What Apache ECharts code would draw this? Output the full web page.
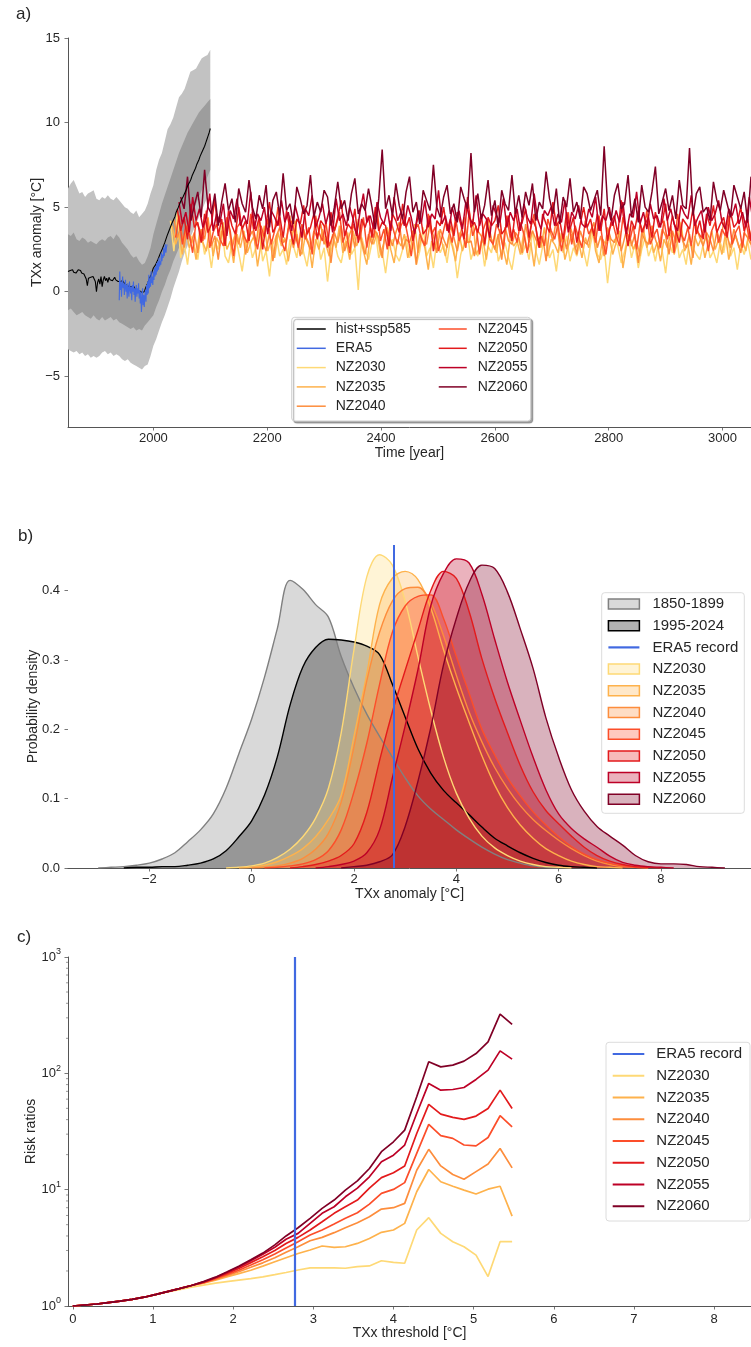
<!DOCTYPE html>
<html><head><meta charset="utf-8">
<script src="https://cdn.jsdelivr.net/npm/echarts@6/dist/echarts.min.js"></script>
<style>html,body{margin:0;padding:0;background:#fff}#c{width:751px;height:1347px}</style>
</head><body><div id="c"></div>
<script>
// ---------------- DATA ----------------
// Panel a: tick labels
const timeTicks = [2000, 2200, 2400, 2600, 2800, 3000];
const anomalyTicks = [-5, 0, 5, 10, 15];
// hist+ssp585 ensemble mean, every 2 years from 1850
const histStart = 1850, histStep = 2;
const histValues = [
  1.2,1.1,1.25,1.2,1.3,1.15,1.25,1.1,1.2,1.3,
  1.2,1.25,1.1,1.2,1.05,0.9,0.75,0.35,0.8,0.7,
  0.85,0.75,0.9,0.8,0.6,0.0,0.55,0.75,0.45,0.9,
  0.3,0.7,0.9,0.65,0.8,0.55,0.85,0.7,0.8,0.65,
  0.75,0.85,0.7,0.75,0.6,0.7,0.6,0.5,0.65,0.55,
  0.45,0.5,0.35,0.45,0.3,0.4,0.3,0.2,0.3,0.15,
  0.2,0.1,0.2,0.05,0.1,-0.05,0.05,0.0,0.2,0.35,
  0.5,0.7,0.85,1.0,1.2,1.4,1.5,1.6,1.75,1.9,
  2.0,2.25,2.2,2.55,2.5,2.9,3.0,3.3,3.35,3.65,
  3.7,4.0,4.05,4.3,4.45,4.7,4.75,5.0,5.05,5.35,
  5.4,5.6,5.75,5.9,6.05,6.25,6.35,6.5,6.65,6.85,
  7.0,7.15,7.3,7.5,7.65,7.8,8.0,8.1,8.3,8.45,
  8.6,8.8,9.0,9.2,9.4,9.65
];
// ERA5, yearly from 1940
const era5Start = 1940;
const era5Values = [
  -0.5,1.2,0.1,0.6,-0.3,0.4,0.9,0.2,0.5,-0.2,
  0.3,0.7,0.0,0.4,-0.4,0.5,0.1,-0.3,0.6,0.2,
  -0.1,0.3,-0.5,0.4,0.0,0.6,-0.2,0.2,-0.6,0.1,
  0.4,-0.3,0.2,-0.1,0.5,-0.4,0.1,-0.7,0.0,-1.2,
  -0.5,0.2,-0.8,-0.2,-0.9,-0.3,0.1,-0.6,0.4,-0.2,
  0.6,-0.1,1.0,0.2,0.8,0.3,1.2,0.5,0.9,0.4,
  1.2,0.7,1.4,0.9,1.5,1.0,1.7,1.2,1.8,1.3,
  2.0,1.5,1.8,1.6,2.3,1.8,2.2,2.0,2.6,2.1,
  2.4,2.8,2.3,2.6,2.8
];
// ensemble spread bands, every 5 years from 1850
const bandStart = 1850, bandStep = 5;
const outerHigh = [
  6.1,6.4,6.6,6.2,5.8,5.9,5.6,5.8,5.9,6.0,
  5.5,5.4,5.6,5.5,5.7,5.5,5.4,5.6,5.4,5.2,
  5.0,4.9,4.7,4.6,4.8,4.4,4.6,4.8,5.2,5.8,
  6.3,7.2,7.8,8.2,8.9,9.6,9.9,10.3,10.9,11.5,
  11.7,12.0,12.5,13.0,13.1,13.2,13.5,13.8,13.9,14.0,14.3
];
const innerHigh = [
  3.4,3.3,3.5,3.1,3.0,3.2,3.1,2.9,3.0,2.9,
  2.8,3.0,3.1,3.0,3.2,3.3,3.1,3.4,3.2,2.9,
  2.7,2.5,2.2,2.0,2.1,1.8,1.6,1.7,2.1,2.6,
  3.4,4.0,4.6,5.2,5.7,6.2,6.7,7.2,7.7,8.2,
  8.6,9.0,9.4,9.7,10.0,10.3,10.6,10.8,11.0,11.2,11.4
];
const innerLow = [
  -1.1,-1.0,-1.2,-1.4,-1.3,-1.2,-1.4,-1.5,-1.6,-1.4,
  -1.6,-1.7,-1.5,-1.7,-1.6,-1.5,-1.7,-1.6,-1.8,-1.9,
  -2.0,-2.1,-2.2,-2.1,-2.3,-2.2,-2.3,-2.0,-1.8,-1.6,
  -1.4,-0.9,-0.5,0.0,0.4,0.9,1.3,1.8,2.2,2.6,
  3.0,3.5,3.9,4.3,4.7,5.2,5.6,6.0,6.4,6.8,7.2
];
const outerLow = [
  -3.4,-3.5,-3.6,-3.5,-3.7,-3.6,-3.8,-3.7,-3.9,-3.8,
  -3.9,-3.8,-3.6,-3.5,-3.7,-3.6,-3.8,-3.7,-3.8,-4.0,
  -4.1,-4.0,-4.2,-4.3,-4.4,-4.5,-4.6,-4.4,-4.3,-3.8,
  -3.2,-2.8,-2.3,-1.8,-1.4,-0.9,-0.4,0.2,0.7,1.2,
  1.8,2.3,2.7,3.2,3.6,4.0,4.4,4.8,5.2,5.6,6.0
];
// Net-zero stabilisation runs, every 6 years from their start year
const nzNames = ['NZ2030','NZ2035','NZ2040','NZ2045','NZ2050','NZ2055','NZ2060'];
const nzStartYears = [2030, 2033, 2036, 2039, 2042, 2045, 2048];
const nzStep = 6;
const nz2030 = [
  4.2,2.4,4.7,2.0,2.9,1.6,3.3,2.7,1.9,3.5,2.2,2.8,1.4,3.0,2.5,3.9,2.1,1.7,2.9,3.4,
  2.3,1.2,2.7,3.2,2.0,2.6,3.7,1.8,2.4,0.9,2.8,3.3,2.1,2.5,1.6,3.1,2.7,2.0,3.6,2.3,
  1.5,2.9,2.2,3.4,1.9,2.6,0.6,2.4,3.0,2.1,1.7,2.8,3.5,2.2,2.6,0.1,3.2,2.5,1.9,2.9,
  3.6,2.0,2.4,1.1,2.7,3.1,2.2,1.8,2.5,3.3,2.0,2.9,1.6,2.4,3.8,2.1,2.6,1.4,3.0,2.3,
  2.8,1.7,3.2,2.5,0.8,2.2,2.9,3.4,1.9,2.6,2.1,3.0,1.5,2.7,2.3,3.5,1.8,2.4,2.9,2.0,
  1.3,2.6,3.1,2.2,2.8,1.9,3.6,2.4,1.6,2.7,3.2,2.0,2.5,1.2,2.9,2.3,3.3,1.8,2.6,2.1,
  3.0,2.4,1.5,2.8,3.7,2.2,1.9,2.6,0.5,2.3,3.1,2.7,1.7,2.4,3.4,2.0,2.8,1.4,2.5,3.2,
  2.1,2.7,1.8,3.0,2.4,1.1,2.9,2.3,3.6,2.0,2.5,1.6,3.1,2.6,2.2,1.9,2.8,3.3,2.0,2.4,
  1.7,2.9,2.3,3.5,2.1,2.6,1.3,2.8,2.2,3.0,1.9
];
const nz2035 = [
  3.9,2.8,3.4,2.2,3.7,2.6,3.1,1.9,3.5,2.9,2.4,3.8,2.1,3.2,2.7,4.1,2.5,3.0,1.7,3.4,
  2.6,3.6,2.3,2.9,3.3,1.5,2.8,3.9,2.4,3.1,2.0,3.5,2.7,3.2,1.8,3.0,4.2,2.6,2.2,3.3,
  2.9,1.4,3.1,2.5,3.7,2.8,2.1,3.4,2.6,3.9,2.3,3.0,1.9,3.6,2.7,3.2,2.4,1.6,3.3,2.8,
  3.5,2.2,2.9,3.8,2.5,1.7,3.1,2.7,3.4,2.0,2.8,4.0,2.3,3.2,2.6,1.3,3.0,2.5,3.6,2.9,
  2.1,3.3,2.7,1.8,3.5,2.4,3.0,2.9,4.3,2.2,2.6,3.1,1.9,3.4,2.8,2.3,3.7,2.5,1.6,3.2,
  2.7,3.0,2.2,3.6,2.4,2.9,1.5,3.3,2.6,3.8,2.1,3.1,2.8,2.3,3.5,1.9,2.7,3.4,2.5,3.0,
  2.0,3.2,2.6,3.9,2.4,1.7,3.1,2.8,3.3,2.2,2.9,3.6,1.4,2.7,3.2,2.5,3.0,2.1,3.7,2.6,
  3.4,2.3,2.9,1.8,3.1,2.6,3.5,2.2,3.0,4.1,2.4,2.8,1.6,3.3,2.7,3.2,2.0,2.9,3.6,2.5,
  3.1,2.2,3.4,1.9,2.8,3.3,2.6,3.0,2.4,3.7,2.1
];
const nz2040 = [
  4.3,3.2,3.8,2.6,4.0,2.9,3.5,2.3,3.7,3.1,4.4,2.7,3.3,1.9,3.6,3.0,4.1,2.5,3.4,2.8,
  3.9,2.2,3.2,3.6,2.7,4.2,3.0,2.4,3.5,1.8,3.3,3.8,2.9,3.1,4.5,2.6,3.4,2.1,3.7,3.0,
  2.5,3.6,3.2,4.0,2.8,3.3,1.7,3.5,2.9,3.9,2.4,3.1,3.7,2.6,4.3,3.0,2.2,3.4,2.8,3.6,
  3.2,2.0,3.8,3.3,2.7,3.5,4.1,2.5,3.1,2.9,3.6,1.6,3.4,3.0,2.8,4.0,3.3,2.3,3.7,3.1,
  2.6,3.9,3.2,2.4,3.5,4.4,2.9,3.0,2.1,3.6,3.3,2.7,4.2,3.1,2.5,3.4,1.9,3.8,3.0,2.8,
  3.5,3.2,2.3,4.0,2.9,3.6,3.1,2.6,3.3,1.8,3.7,3.0,4.3,2.7,3.4,2.5,3.9,3.2,2.2,3.6,
  3.0,2.8,3.5,4.1,2.6,3.3,2.1,3.8,3.1,2.9,3.6,2.4,3.2,4.0,2.7,3.4,1.7,3.5,3.0,2.8,
  3.9,3.1,2.5,3.7,3.3,2.2,3.6,2.9,4.2,3.0,2.6,3.4,2.0,3.8,3.2,2.7,3.5,3.1,2.4,3.6,
  2.9,4.1,3.3,2.6,3.7,3.0,2.3,3.5,3.2,2.8,3.9
];
const nz2045 = [
  3.2,4.5,2.8,3.9,3.4,2.3,4.2,3.7,3.0,4.8,2.6,3.5,4.0,3.1,2.7,4.4,3.6,2.1,3.8,4.1,
  3.3,2.9,4.6,3.5,2.5,3.9,3.2,4.3,2.8,3.6,5.0,3.0,2.4,3.7,4.2,3.4,2.6,4.0,3.1,3.8,
  2.2,4.5,3.5,3.0,4.1,2.7,3.3,3.9,4.7,2.9,3.6,2.3,4.0,3.4,3.1,4.4,2.6,3.8,3.2,4.9,
  3.0,3.7,2.5,4.2,3.5,2.8,3.9,4.3,3.3,2.1,3.6,4.0,3.1,2.7,4.6,3.4,3.8,2.4,3.2,4.1,
  3.7,2.9,4.4,3.0,3.5,2.6,4.8,3.3,3.9,2.2,3.6,4.2,3.1,2.8,4.0,3.5,2.5,4.5,3.2,3.7,
  2.9,4.1,3.4,2.3,3.8,4.6,3.0,3.3,2.7,4.3,3.6,3.1,4.0,2.4,3.5,4.7,2.8,3.9,3.2,2.6,
  4.2,3.4,3.8,2.9,4.5,3.1,2.2,3.7,4.1,3.3,2.7,4.4,3.6,3.0,3.9,2.5,4.0,3.5,4.8,2.8,
  3.3,3.7,2.6,4.2,3.1,3.9,2.3,4.6,3.4,3.0,3.8,2.7,4.3,3.5,3.2,4.0,2.4,3.6,4.1,2.9,
  3.7,3.3,4.5,2.8,3.5,3.9,2.6,4.2,3.1,3.8,3.4
];
const nz2050 = [
  4.9,3.6,4.4,3.1,5.2,3.8,4.1,2.9,4.6,3.5,4.0,5.5,3.3,4.3,2.7,4.8,3.9,3.4,5.0,3.7,
  4.2,3.0,4.7,3.6,4.4,2.5,4.0,5.3,3.5,3.9,4.5,3.2,4.8,3.7,2.8,4.3,4.0,5.1,3.4,3.8,
  4.6,3.1,4.2,3.9,2.6,4.7,3.6,4.4,5.4,3.3,4.0,3.7,4.9,2.9,4.3,3.8,4.5,3.2,5.0,3.6,
  4.1,3.9,2.7,4.6,4.2,3.5,5.2,3.8,4.4,3.0,4.0,4.8,3.4,3.7,4.5,2.4,4.2,3.9,5.0,3.6,
  4.3,3.3,4.7,4.0,3.1,5.6,3.8,4.1,3.5,4.6,2.8,4.4,3.9,4.2,5.1,3.4,3.7,4.5,3.0,4.8,
  3.6,4.1,4.9,3.2,4.3,3.8,2.6,4.6,4.0,3.5,5.3,3.9,4.2,3.1,4.7,3.7,4.4,2.9,4.0,5.0,
  3.8,4.3,3.3,4.6,3.6,4.9,3.0,4.1,4.5,3.4,5.4,3.9,2.7,4.2,3.7,4.8,3.5,4.0,4.4,3.2,
  4.7,3.8,4.1,5.2,3.3,4.5,3.6,2.9,4.3,4.0,3.7,4.9,3.4,4.2,3.1,4.6,3.9,5.1,3.5,4.0,
  4.4,3.2,4.7,3.8,4.1,5.0,3.6,4.3,3.0,4.5,3.9
];
const nz2055 = [
  5.3,4.0,4.7,3.5,5.6,4.2,4.9,3.8,4.4,5.8,3.6,4.6,4.1,5.2,3.3,4.8,4.3,5.5,3.9,4.5,
  4.0,5.9,3.7,4.6,4.2,5.0,3.4,4.8,4.4,3.9,5.4,4.1,4.7,3.6,5.1,4.3,3.2,4.9,4.5,5.7,
  3.8,4.4,5.2,4.0,4.8,3.5,5.5,4.2,4.6,3.9,5.0,4.3,3.3,4.7,5.8,4.1,4.5,3.7,5.3,4.4,
  4.0,4.9,3.6,5.6,4.2,4.7,3.9,5.1,4.4,3.4,4.8,4.1,5.4,3.8,4.6,4.3,6.0,4.0,4.5,3.5,
  5.0,4.2,4.8,3.7,5.3,4.4,4.0,5.7,3.9,4.6,4.3,3.2,5.1,4.5,4.1,5.5,3.8,4.7,4.2,4.9,
  3.6,5.2,4.4,4.0,5.8,4.3,3.7,4.8,4.5,5.0,3.9,4.6,4.1,5.4,3.5,4.7,4.3,5.1,4.0,3.8,
  4.9,4.4,5.6,3.6,4.5,4.2,5.0,3.9,4.8,4.1,5.3,3.4,4.6,4.4,5.9,4.0,4.7,3.7,5.2,4.3,
  4.5,3.8,5.5,4.2,4.9,4.0,3.6,5.1,4.6,4.3,5.7,3.9,4.4,4.8,3.5,5.0,4.2,4.6,5.4,4.1,
  3.7,4.9,4.5,5.2,4.0,4.7,3.8,5.6,4.3,4.4,5.0
];
const nz2060 = [
  5.6,4.9,6.8,4.2,5.1,5.9,4.4,7.2,5.0,4.6,5.8,3.9,5.3,6.4,4.8,5.5,4.1,6.1,5.2,4.7,
  6.6,5.0,4.3,5.7,4.9,6.3,3.8,5.4,5.9,4.5,7.0,4.8,5.2,4.0,6.2,5.5,4.6,5.1,6.9,4.4,
  5.3,4.7,6.0,5.6,3.9,5.0,6.5,4.9,5.4,4.2,5.8,6.7,4.6,5.2,4.8,6.1,5.0,3.7,5.5,8.4,
  4.9,5.7,4.5,6.4,5.1,4.3,5.9,6.8,4.7,5.3,4.0,6.0,5.4,4.8,7.5,5.0,4.4,5.6,6.3,4.6,
  5.2,4.1,6.2,5.5,4.9,8.2,4.7,5.8,4.3,5.1,6.6,4.5,5.4,3.8,6.0,5.2,4.8,6.9,4.6,5.7,
  4.4,5.9,5.1,6.4,4.2,5.3,4.9,7.1,5.5,4.6,6.1,4.0,5.6,5.0,6.7,4.7,5.3,4.3,6.2,5.8,
  4.8,5.4,6.0,4.5,8.6,5.1,4.2,5.7,6.4,4.9,5.2,6.9,4.4,5.5,4.1,6.3,5.0,4.7,5.9,7.4,
  4.6,5.3,6.1,4.8,5.7,4.3,6.6,5.1,4.9,8.5,4.5,5.8,6.2,4.7,5.0,4.2,6.5,5.4,4.8,6.0,
  5.2,4.4,6.3,5.6,4.9,5.9,4.1,6.8,5.3,4.7,5.5
];
const nzValues = [nz2030, nz2035, nz2040, nz2045, nz2050, nz2055, nz2060];

// Panel b: KDE of TXx anomaly, grid from -3.0 in steps of 0.25
const kdeStart = -3.0, kdeStep = 0.25;
const kdeTicks = [-2, 0, 2, 4, 6, 8];
const densityTicks = [0, 0.1, 0.2, 0.3, 0.4];
const era5Record = 2.77;
const kde1850 = [0,0.001,0.002,0.004,0.007,0.013,0.022,0.038,0.055,0.078,0.115,0.165,0.215,0.275,0.345,0.415,0.402,0.38,0.362,0.305,0.26,0.222,0.19,0.16,0.13,0.104,0.085,0.07,0.055,0.042,0.03,0.02,0.012,0.007,0.003,0.001,0,0,0,0,0,0,0,0,0,0,0,0,0,0];
const kde1995 = [0,0,0,0.001,0.001,0.002,0.002,0.004,0.007,0.013,0.025,0.045,0.068,0.105,0.16,0.235,0.29,0.318,0.33,0.329,0.326,0.32,0.308,0.265,0.218,0.172,0.137,0.112,0.094,0.077,0.059,0.043,0.032,0.022,0.014,0.008,0.004,0.002,0.001,0,0,0,0,0,0,0,0,0,0,0];
const kde2030 = [0,0,0,0,0,0,0,0,0,0,0,0.001,0.003,0.007,0.015,0.027,0.045,0.072,0.115,0.195,0.315,0.42,0.452,0.437,0.385,0.305,0.228,0.16,0.108,0.072,0.046,0.029,0.018,0.01,0.005,0.002,0.001,0,0,0,0,0,0,0,0,0,0,0,0,0];
const kde2035 = [0,0,0,0,0,0,0,0,0,0,0,0,0.001,0.004,0.009,0.017,0.028,0.045,0.07,0.105,0.19,0.28,0.38,0.418,0.428,0.416,0.375,0.315,0.26,0.21,0.162,0.12,0.087,0.062,0.043,0.028,0.018,0.01,0.005,0.002,0.001,0,0,0,0,0,0,0,0,0];
const kde2040 = [0,0,0,0,0,0,0,0,0,0,0,0,0,0.001,0.003,0.007,0.014,0.027,0.05,0.095,0.175,0.27,0.34,0.385,0.403,0.405,0.383,0.335,0.278,0.225,0.182,0.145,0.115,0.09,0.07,0.054,0.04,0.028,0.018,0.01,0.005,0.002,0.001,0,0,0,0,0,0,0];
const kde2045 = [0,0,0,0,0,0,0,0,0,0,0,0,0,0,0.001,0.003,0.006,0.012,0.025,0.055,0.11,0.18,0.265,0.34,0.378,0.392,0.394,0.36,0.305,0.252,0.2,0.163,0.13,0.104,0.081,0.062,0.045,0.031,0.02,0.012,0.007,0.003,0.001,0,0,0,0,0,0,0];
const kde2050 = [0,0,0,0,0,0,0,0,0,0,0,0,0,0,0,0,0.002,0.005,0.01,0.018,0.035,0.08,0.155,0.225,0.285,0.343,0.4,0.428,0.418,0.37,0.302,0.245,0.195,0.148,0.11,0.083,0.064,0.046,0.03,0.018,0.01,0.005,0.002,0.001,0,0,0,0,0,0];
const kde2055 = [0,0,0,0,0,0,0,0,0,0,0,0,0,0,0,0,0,0,0.002,0.005,0.01,0.022,0.055,0.13,0.205,0.286,0.378,0.425,0.446,0.44,0.395,0.33,0.268,0.213,0.16,0.113,0.078,0.057,0.042,0.03,0.017,0.008,0.004,0.002,0.001,0,0,0,0,0];
const kde2060 = [0,0,0,0,0,0,0,0,0,0,0,0,0,0,0,0,0,0,0,0,0.002,0.004,0.009,0.019,0.06,0.125,0.202,0.293,0.36,0.412,0.437,0.432,0.398,0.345,0.288,0.217,0.16,0.113,0.082,0.06,0.046,0.033,0.018,0.009,0.006,0.006,0.005,0.002,0.001,0];
const kdeNames = ['1850-1899','1995-2024'].concat(nzNames);
const kdeValues = [kde1850, kde1995, kde2030, kde2035, kde2040, kde2045, kde2050, kde2055, kde2060];

// Panel c: risk ratios vs TXx threshold
const thresholds = [0,0.15,0.30,0.44,0.59,0.74,0.89,1.04,1.18,1.33,1.48,1.63,1.78,1.92,2.07,2.22,2.37,2.52,2.66,2.81,2.96,3.11,3.26,3.40,3.55,3.70,3.85,4.00,4.14,4.29,4.44,4.59,4.74,4.88,5.03,5.18,5.33,5.48];
const thresholdTicks = [0,1,2,3,4,5,6,7,8];
const riskTicksMinor = [2,3,4,5,6,7,8,9,20,30,40,50,60,70,80,90,200,300,400,500,600,700,800,900];
const rr2030 = [1.0,1.02,1.04,1.07,1.1,1.14,1.19,1.25,1.32,1.38,1.45,1.51,1.57,1.62,1.67,1.72,1.78,1.86,1.94,2.04,2.13,2.13,2.13,2.11,2.18,2.21,2.45,2.37,2.33,4.5,5.74,4.21,3.57,3.23,2.74,1.79,3.57,3.57];
const rr2035 = [1.0,1.02,1.04,1.07,1.1,1.14,1.19,1.26,1.33,1.41,1.5,1.57,1.67,1.78,1.9,2.03,2.2,2.4,2.6,2.83,3.03,3.28,3.19,3.23,3.45,3.81,4.3,4.5,5.13,9.6,14.9,11.7,10.7,9.92,9.17,10.1,10.7,5.93];
const rr2040 = [1.0,1.02,1.04,1.07,1.1,1.14,1.19,1.26,1.33,1.41,1.5,1.58,1.69,1.82,1.97,2.15,2.35,2.6,2.9,3.23,3.64,3.89,4.27,4.71,5.2,5.85,6.81,7.0,7.62,14.7,22.2,16.0,13.5,12.3,14.3,16.6,22.6,15.4];
const rr2045 = [1.0,1.02,1.04,1.07,1.1,1.14,1.19,1.26,1.33,1.41,1.5,1.59,1.72,1.86,2.03,2.25,2.5,2.8,3.15,3.57,4.07,4.5,5.06,5.67,6.34,7.52,9.29,10.05,11.5,20.5,36.4,29.1,27.6,24.2,23.8,28.1,43.2,34.7];
const rr2050 = [1.0,1.02,1.04,1.07,1.1,1.14,1.19,1.26,1.33,1.41,1.5,1.6,1.74,1.9,2.1,2.36,2.65,3.0,3.45,3.89,4.5,5.3,6.26,7.13,8.14,10.3,12.7,14.0,16.0,30.4,54.1,44.6,41.8,40.2,42.9,49.9,71.7,49.9];
const rr2055 = [1.0,1.02,1.04,1.07,1.1,1.14,1.19,1.26,1.33,1.41,1.5,1.61,1.76,1.94,2.16,2.45,2.78,3.2,3.75,4.21,5.13,6.26,7.13,8.69,10.3,12.9,17.4,19.8,24.2,45.2,81.9,71.7,72.6,75.6,88.6,106.5,156,132.5];
const rr2060 = [1.0,1.02,1.04,1.07,1.1,1.14,1.19,1.26,1.33,1.41,1.5,1.62,1.77,1.96,2.2,2.5,2.85,3.35,4.0,4.71,5.67,6.9,8.14,9.92,11.9,15.2,21.2,25.8,32.5,62.9,125.6,113.7,117.6,127.3,148,186.5,322.6,263];
const rrValues = [rr2030, rr2035, rr2040, rr2045, rr2050, rr2055, rr2060];

// ---------------- STYLE ----------------
const FONT = '"Liberation Sans", Arial, sans-serif';
const TXT = '#262626', AX = '#555555';
const nzColors = ['#fed976','#feb24c','#fd8d3c','#fc4e2a','#e31a1c','#bd0026','#800026'];
const kdeColors = ['#808080','#000000'].concat(nzColors);
const ERA_BLUE = '#4169e1';
const minus = v => (v < 0 ? '\u2212' + Math.abs(v) : String(v));
function hexA(hex, a) {
  const n = parseInt(hex.slice(1), 16);
  return 'rgba(' + ((n >> 16) & 255) + ',' + ((n >> 8) & 255) + ',' + (n & 255) + ',' + a + ')';
}
const strip = n => n.replace(/^[bc]:/, '');

function valAxis(grid, min, max, ticks, fmt, name, nameGap, margin, showLine) {
  return {
    type: 'value', gridIndex: grid, min: min, max: max,
    axisLine: { show: showLine !== false, onZero: false, lineStyle: { color: AX, width: 1 } },
    axisTick: { show: true, customValues: ticks, length: 3.5, lineStyle: { color: AX, width: 0.8 } },
    axisLabel: { customValues: ticks, formatter: fmt, margin: margin, fontSize: 13, color: TXT, fontFamily: FONT },
    splitLine: { show: false },
    name: name, nameLocation: 'middle', nameGap: nameGap, nameMoveOverlap: false,
    nameTextStyle: { fontSize: 14, color: TXT, fontFamily: FONT }
  };
}

const series = [];
// ensemble spread bands drawn as polygons through the axis scales
const bandYears = outerHigh.map((_, i) => bandStart + i * bandStep);
function bandSeries(lo, hi, color) {
  return { type: 'custom', xAxisIndex: 0, yAxisIndex: 0, silent: true,
    data: bandYears.map((y, i) => [y, lo[i], hi[i]]),
    encode: { x: 0, y: [1, 2] },
    renderItem: function (params, api) {
      if (params.dataIndex !== 0) return null;
      const pts = [];
      for (let i = 0; i < bandYears.length; i++) pts.push(api.coord([bandYears[i], hi[i]]));
      for (let i = bandYears.length - 1; i >= 0; i--) pts.push(api.coord([bandYears[i], lo[i]]));
      return { type: 'polygon', shape: { points: pts }, style: { fill: color } };
    } };
}
series.push(bandSeries(outerLow, outerHigh, '#c2c2c2'));
series.push(bandSeries(innerLow, innerHigh, '#9d9d9d'));
nzNames.forEach((n, k) => {
  series.push({ type: 'line', name: n, xAxisIndex: 0, yAxisIndex: 0, symbol: 'none',
    lineStyle: { color: nzColors[k], width: 1.5 }, itemStyle: { color: nzColors[k] },
    data: nzValues[k].map((v, i) => [nzStartYears[k] + i * nzStep, v]) });
});
series.push({ type: 'line', name: 'hist+ssp585', xAxisIndex: 0, yAxisIndex: 0, symbol: 'none',
  lineStyle: { color: '#000', width: 1.1 }, itemStyle: { color: '#000' },
  data: histValues.map((v, i) => [histStart + i * histStep, v]) });
series.push({ type: 'line', name: 'ERA5', xAxisIndex: 0, yAxisIndex: 0, symbol: 'none',
  lineStyle: { color: ERA_BLUE, width: 1.1 }, itemStyle: { color: ERA_BLUE },
  data: era5Values.map((v, i) => [era5Start + i, v]) });

// panel b KDEs
kdeNames.forEach((n, k) => {
  const vals = kdeValues[k];
  let first = vals.findIndex(v => v > 0), last = vals.length - 1;
  while (last > 0 && vals[last] === 0) last--;
  first = Math.max(0, first - 1); last = Math.min(vals.length - 1, last + 1);
  const pts = [];
  for (let i = first; i <= last; i++) pts.push([kdeStart + i * kdeStep, vals[i]]);
  series.push({ type: 'line', name: 'b:' + n, xAxisIndex: 1, yAxisIndex: 1, symbol: 'none', smooth: 0.35,
    lineStyle: { color: kdeColors[k], width: 1.4 }, itemStyle: { color: kdeColors[k] },
    areaStyle: { color: kdeColors[k], opacity: 0.3 }, data: pts });
});
series.push({ type: 'line', name: 'b:ERA5 record', xAxisIndex: 1, yAxisIndex: 1, symbol: 'none',
  lineStyle: { color: ERA_BLUE, width: 2 }, itemStyle: { color: ERA_BLUE }, data: [],
  markLine: { symbol: 'none', silent: true, label: { show: false },
    lineStyle: { color: ERA_BLUE, width: 2, type: 'solid' }, data: [{ xAxis: era5Record }] } });

// panel c
series.push({ type: 'line', name: 'c:ERA5 record', xAxisIndex: 2, yAxisIndex: 2, symbol: 'none',
  lineStyle: { color: ERA_BLUE, width: 2.2 }, itemStyle: { color: ERA_BLUE }, data: [],
  markLine: { symbol: 'none', silent: true, label: { show: false },
    lineStyle: { color: ERA_BLUE, width: 2.2, type: 'solid' }, data: [{ xAxis: era5Record }] } });
nzNames.forEach((n, k) => {
  series.push({ type: 'line', name: 'c:' + n, xAxisIndex: 2, yAxisIndex: 2, symbol: 'none',
    lineStyle: { color: nzColors[k], width: 1.7 }, itemStyle: { color: nzColors[k] },
    data: rrValues[k].map((v, i) => [thresholds[i], v]) });
});
// minor ticks of the log axis, placed through the axis scale
series.push({ type: 'custom', xAxisIndex: 2, yAxisIndex: 2, silent: true, clip: false,
  data: riskTicksMinor.map(v => [0, v]),
  renderItem: function (params, api) {
    const p = api.coord([0, api.value(1)]);
    const x0 = params.coordSys.x;
    return { type: 'line', shape: { x1: x0 - 2, y1: p[1], x2: x0, y2: p[1] }, style: { stroke: AX, lineWidth: 0.6 } };
  } });

const option = {
  animation: false,
  backgroundColor: '#ffffff',
  textStyle: { fontFamily: FONT },
  grid: [
    { left: 68, top: 38, right: 0, height: 389, outerBoundsMode: 'none' },
    { left: 68, top: 545, right: 0, height: 323, outerBoundsMode: 'none' },
    { left: 68, top: 957, right: 0, height: 349, outerBoundsMode: 'none' }
  ],
  xAxis: [
    valAxis(0, 1850, 3050, timeTicks, v => String(v), 'Time [year]', 19, 5),
    valAxis(1, -3.59, 9.76, kdeTicks, minus, 'TXx anomaly [°C]', 19, 5),
    valAxis(2, -0.06, 8.46, thresholdTicks, v => String(v), 'TXx threshold [°C]', 20, 7)
  ],
  yAxis: [
    valAxis(0, -8, 15, anomalyTicks, minus, 'TXx anomaly [°C]', 24, 8),
    valAxis(1, 0, 0.466, densityTicks, v => v.toFixed(1), 'Probability density', 28, 8, false),
    {
      type: 'log', logBase: 10, gridIndex: 2, min: 1, max: 1000,
      axisLine: { show: true, onZero: false, lineStyle: { color: AX, width: 1 } },
      axisTick: { show: true, length: 3.5, lineStyle: { color: AX, width: 0.8 } },
      axisLabel: { margin: 7, formatter: v => '{b|10}{s|' + Math.round(Math.log10(v)) + '}',
        rich: { b: { fontSize: 13, color: TXT, fontFamily: FONT }, s: { fontSize: 9, color: TXT, fontFamily: FONT, padding: [0, 0, 10, 0] } } },
      splitLine: { show: false },
      name: 'Risk ratios', nameLocation: 'middle', nameGap: 30, nameMoveOverlap: false,
      nameTextStyle: { fontSize: 14, color: TXT, fontFamily: FONT }
    }
  ],
  legend: [
    { data: ['hist+ssp585', 'ERA5', 'NZ2030', 'NZ2035', 'NZ2040'], orient: 'vertical', left: 296, top: 322,
      padding: 0, itemGap: 5.3, itemWidth: 29, itemHeight: 14, selectedMode: false, z: 10,
      itemStyle: { opacity: 0 }, lineStyle: { width: 1.5 },
      textStyle: { fontSize: 14, lineHeight: 14, color: TXT, fontFamily: FONT, padding: [0, 0, 0, 5] } },
    { data: ['NZ2045', 'NZ2050', 'NZ2055', 'NZ2060'], orient: 'vertical', left: 438, top: 322,
      padding: 0, itemGap: 5.3, itemWidth: 28, itemHeight: 14, selectedMode: false, z: 10,
      itemStyle: { opacity: 0 }, lineStyle: { width: 1.5 },
      textStyle: { fontSize: 14, lineHeight: 14, color: TXT, fontFamily: FONT, padding: [0, 0, 0, 6] } },
    { data: kdeNames.slice(0, 2).map((n, k) => ({ name: 'b:' + n, icon: 'rect',
          itemStyle: { color: hexA(kdeColors[k], 0.3), borderColor: kdeColors[k], borderWidth: 1.5, opacity: 1 } }))
        .concat([{ name: 'b:ERA5 record', itemStyle: { opacity: 0 } }])
        .concat(nzNames.map((n, k) => ({ name: 'b:' + n, icon: 'rect',
          itemStyle: { color: hexA(nzColors[k], 0.3), borderColor: nzColors[k], borderWidth: 1.5, opacity: 1 } }))),
      orient: 'vertical', left: 607.3, top: 596.5, padding: 0, itemGap: 6.7, itemWidth: 31, itemHeight: 10,
      selectedMode: false, z: 10, formatter: strip, lineStyle: { width: 2.2 },
      textStyle: { fontSize: 15, lineHeight: 15, color: TXT, fontFamily: FONT, padding: [0, 0, 0, 8] } },
    { data: ['c:ERA5 record'].concat(nzNames.map(n => 'c:' + n)),
      orient: 'vertical', left: 611.7, top: 1046.5, padding: 0, itemGap: 6.75, itemWidth: 31.6, itemHeight: 10,
      selectedMode: false, z: 10, formatter: strip, itemStyle: { opacity: 0 }, lineStyle: { width: 2 },
      textStyle: { fontSize: 15, lineHeight: 15, color: TXT, fontFamily: FONT, padding: [0, 0, 0, 7] } }
  ],
  graphic: [
    { type: 'rect', z: 5, shape: { x: 291.7, y: 317.3, width: 239, height: 103.7, r: 3 },
      style: { fill: '#ffffff', stroke: '#cfcfcf', lineWidth: 1, shadowColor: 'rgba(0,0,0,0.35)', shadowOffsetX: 2, shadowOffsetY: 2, shadowBlur: 1 } },
    { type: 'rect', z: 5, shape: { x: 601.7, y: 592.7, width: 142.6, height: 220.6, r: 3 },
      style: { fill: '#ffffff', stroke: '#dcdcdc', lineWidth: 1 } },
    { type: 'rect', z: 5, shape: { x: 606, y: 1042.3, width: 144, height: 178.7, r: 3 },
      style: { fill: '#ffffff', stroke: '#dcdcdc', lineWidth: 1 } },
    { type: 'text', z: 5, x: 16, y: 6, style: { text: 'a)', fontSize: 17, fill: TXT, fontFamily: FONT } },
    { type: 'text', z: 5, x: 18, y: 528, style: { text: 'b)', fontSize: 17, fill: TXT, fontFamily: FONT } },
    { type: 'text', z: 5, x: 17, y: 929, style: { text: 'c)', fontSize: 17, fill: TXT, fontFamily: FONT } }
  ],
  series: series
};
const chart = echarts.init(document.getElementById('c'), null, { renderer: 'canvas', width: 751, height: 1347 });
chart.setOption(option);
</script></body></html>
